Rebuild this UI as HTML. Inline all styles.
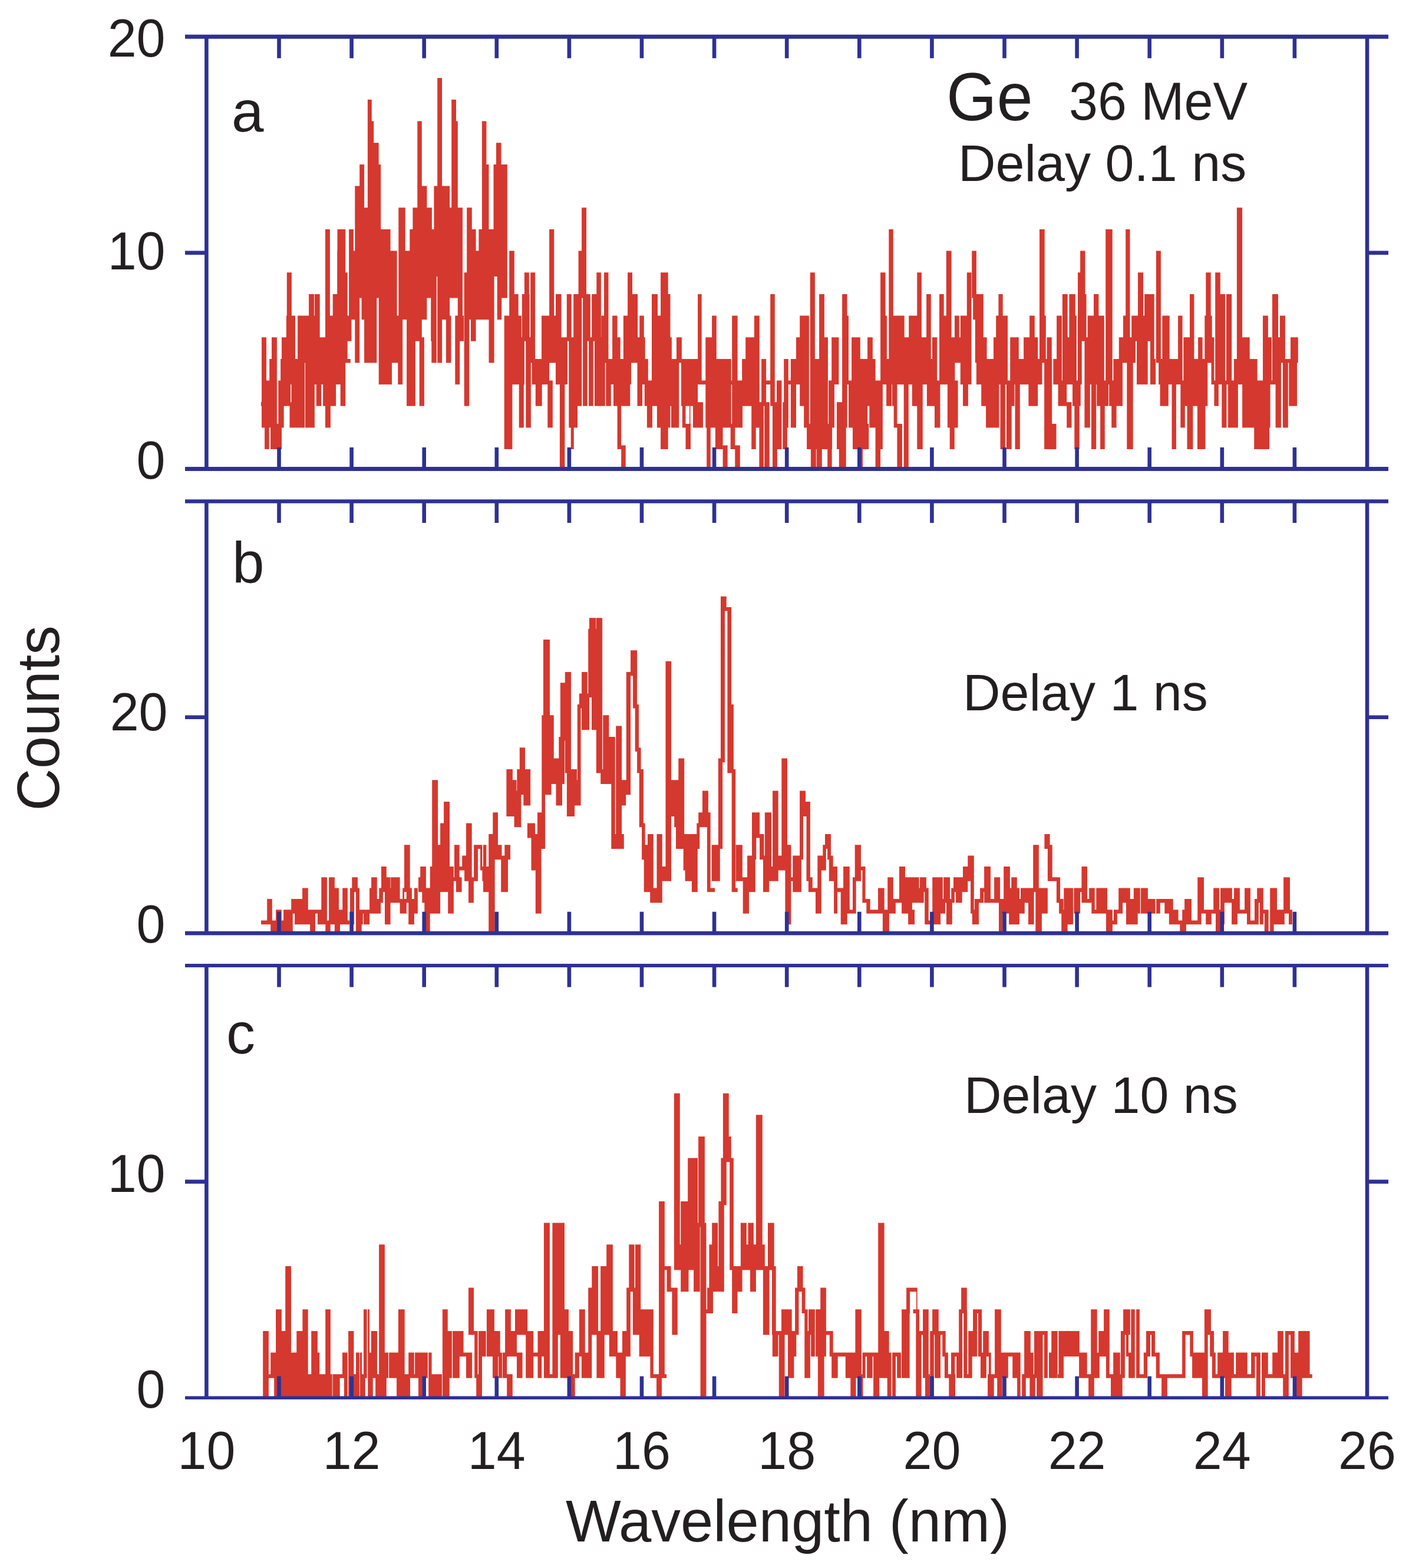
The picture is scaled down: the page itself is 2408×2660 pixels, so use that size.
<!DOCTYPE html>
<html><head><meta charset="utf-8"><title>Ge 36 MeV spectra</title>
<style>html,body{margin:0;padding:0;background:#fff;overflow:hidden;}svg{display:block;}</style></head>
<body><svg width="2408" height="2660" viewBox="0 0 2408 2660">
<rect width="2408" height="2660" fill="#ffffff"/>
<path fill="#d5382e" d="M442.9 682.2H446.3V688.8H442.9zM444.0 572.2H452.0V725.5H444.0zM446.3 645.6H457.2V725.5H446.3zM449.1 718.9H456.7V762.1H449.1zM457.2 608.9H461.0V725.5H457.2zM461.0 572.2H469.9V725.5H461.0zM459.1 718.9H478.0V762.1H459.1zM469.9 718.9H472.3V725.5H469.9zM472.3 645.6H481.7V725.5H472.3zM476.1 608.9H493.0V688.8H476.1zM478.0 572.2H485.9V615.5H478.0zM485.9 535.6H501.0V652.2H485.9zM486.8 462.3H494.9V542.2H486.8zM494.4 608.9H517.0V725.5H494.4zM505.1 535.6H517.0V725.5H505.1zM517.9 535.6H533.9V725.5H517.9zM524.1 498.9H533.0V542.2H524.1zM533.9 498.9H542.0V652.2H533.9zM536.8 645.6H545.2V688.8H536.8zM543.9 572.2H552.2V652.2H543.9zM548.1 645.6H569.7V688.8H548.1zM553.3 682.2H560.9V725.5H553.3zM552.2 425.6H559.7V652.2H552.2zM559.7 535.6H565.0V652.2H559.7zM565.0 498.9H572.2V652.2H565.0zM572.2 425.6H585.0V652.2H572.2zM578.2 645.6H585.0V688.8H578.2zM491.5 682.2H495.3V725.5H491.5zM516.0 535.6H518.9V615.5H516.0zM540.0 498.9H542.7V688.8H540.0zM540.0 572.2H545.1V688.8H540.0zM545.1 608.9H552.0V652.2H545.1zM552.0 388.9H559.9V725.5H552.0zM559.9 535.6H564.7V688.8H559.9zM564.7 498.9H570.1V688.8H564.7zM570.1 498.9H572.5V652.2H570.1zM572.5 388.9H586.2V652.2H572.5zM577.7 645.6H586.2V688.8H577.7zM586.2 462.3H589.7V615.5H586.2zM586.9 608.9H594.8V615.5H586.9zM589.7 535.6H596.5V578.8H589.7zM592.1 388.9H599.9V542.2H592.1zM599.9 425.6H602.3V542.2H599.9zM602.3 315.6H610.2V615.5H602.3zM610.2 279.0H618.1V505.5H610.2zM613.6 498.9H621.2V542.2H613.6zM618.1 352.3H623.9V615.5H618.1zM623.9 169.0H630.8V615.5H623.9zM630.8 205.6H634.2V615.5H630.8zM634.2 242.3H639.3V615.5H634.2zM639.3 242.3H642.7V505.5H639.3zM639.3 279.0H646.2V505.5H639.3zM642.7 388.9H653.0V505.5H642.7zM642.7 498.9H665.0V652.2H642.7zM653.0 388.9H662.6V578.8H653.0zM662.6 425.6H673.6V542.2H662.6zM665.0 535.6H675.3V615.5H665.0zM676.3 352.3H686.6V542.2H676.3zM675.3 535.6H683.2V652.2H675.3zM683.2 425.6H690.0V542.2H683.2zM685.0 352.3H687.7V542.2H685.0zM687.7 425.6H695.3V542.2H687.7zM690.1 535.6H704.9V688.8H690.1zM695.3 388.9H700.4V542.2H695.3zM700.4 352.3H708.3V578.8H700.4zM708.3 205.6H715.8V578.8H708.3zM711.7 572.2H719.9V688.8H711.7zM715.8 315.6H724.4V542.2H715.8zM724.4 352.3H732.9V505.5H724.4zM731.2 388.9H734.7V578.8H731.2zM732.3 388.9H740.8V615.5H732.3zM736.4 315.6H742.5V468.9H736.4zM742.2 132.3H750.1V615.5H742.2zM750.1 315.6H763.1V542.2H750.1zM756.9 535.6H765.5V615.5H756.9zM763.1 352.3H766.2V505.5H763.1zM766.2 169.0H774.0V505.5H766.2zM774.0 205.6H776.8V505.5H774.0zM776.8 352.3H785.0V542.2H776.8zM772.3 535.6H780.2V652.2H772.3zM780.2 535.6H787.1V578.8H780.2zM787.7 462.3H796.3V688.8H787.7zM792.2 352.3H800.8V542.2H792.2zM799.0 388.9H807.6V578.8H799.0zM807.6 425.6H812.4V542.2H807.6zM812.4 388.9H818.6V542.2H812.4zM817.9 205.6H825.4V542.2H817.9zM825.4 279.0H829.5V542.2H825.4zM829.5 388.9H835.0V615.5H829.5zM830.0 388.9H838.6V615.5H830.0zM837.5 279.0H843.7V468.9H837.5zM842.0 242.3H850.5V285.6H842.0zM843.7 279.0H851.2V542.2H843.7zM851.2 279.0H860.8V505.5H851.2zM855.7 535.6H869.4V762.1H855.7zM864.2 425.6H872.8V652.2H864.2zM869.4 498.9H879.7V652.2H869.4zM879.7 535.6H884.8V652.2H879.7zM880.7 645.6H888.9V725.5H880.7zM884.8 572.2H889.9V652.2H884.8zM885.8 498.9H898.5V578.8H885.8zM889.9 462.3H897.8V578.8H889.9zM892.3 572.2H900.9V725.5H892.3zM900.2 462.3H908.1V615.5H900.2zM902.6 608.9H919.0V652.2H902.6zM908.8 645.6H919.7V688.8H908.8zM919.0 535.6H932.1V652.2H919.0zM929.3 645.6H937.9V725.5H929.3zM932.1 388.9H940.3V615.5H932.1zM940.3 535.6H943.7V615.5H940.3zM943.0 498.9H952.6V652.2H943.0zM949.9 645.6H958.4V795.5H949.9zM952.6 572.2H962.9V652.2H952.6zM961.8 498.9H969.7V578.8H961.8zM965.3 572.2H973.2V725.5H965.3zM968.7 718.9H973.8V762.1H968.7zM973.2 498.9H980.0V725.5H973.2zM975.0 498.9H978.8V725.5H975.0zM975.0 498.9H985.9V688.8H975.0zM981.6 425.6H987.3V688.8H981.6zM987.1 352.3H995.0V505.5H987.1zM989.1 498.9H996.7V688.8H989.1zM994.8 498.9H1001.8V578.8H994.8zM999.1 572.2H1006.7V688.8H999.1zM1004.2 498.9H1012.3V578.8H1004.2zM1012.3 462.3H1019.9V578.8H1012.3zM1008.9 572.2H1026.8V688.8H1008.9zM1020.2 535.6H1025.5V578.8H1020.2zM1025.0 462.3H1032.5V615.5H1025.0zM1028.3 608.9H1036.8V688.8H1028.3zM1032.5 608.9H1039.1V652.2H1032.5zM1039.1 535.6H1047.6V652.2H1039.1zM1041.0 608.9H1069.3V688.8H1041.0zM1047.6 572.2H1052.7V652.2H1047.6zM1047.6 682.2H1054.2V762.1H1047.6zM1054.2 755.5H1061.7V795.5H1054.2zM1057.9 535.6H1065.1V652.2H1057.9zM1065.1 462.3H1073.0V615.5H1065.1zM1069.3 608.9H1071.1V652.2H1069.3zM1071.1 498.9H1082.1V615.5H1071.1zM1085.3 535.6H1092.8V578.8H1085.3zM1081.5 572.2H1090.0V688.8H1081.5zM1090.0 572.2H1094.7V652.2H1090.0zM1093.8 608.9H1099.8V688.8H1093.8zM1097.9 645.6H1107.0V725.5H1097.9zM1106.0 498.9H1116.0V688.8H1106.0zM1114.9 535.6H1121.1V725.5H1114.9zM1121.1 462.3H1133.7V762.1H1121.1zM1131.1 498.9H1137.5V725.5H1131.1zM1136.2 572.2H1139.9V688.8H1136.2zM1139.0 608.9H1152.2V725.5H1139.0zM1148.0 572.2H1156.9V615.5H1148.0zM1156.0 608.9H1175.0V688.8H1156.0zM1157.8 682.2H1163.5V725.5H1157.8zM1163.5 718.9H1172.0V762.1H1163.5zM1170.0 608.9H1171.5V762.1H1170.0zM1170.0 608.9H1184.1V688.8H1170.0zM1176.0 682.2H1193.0V725.5H1176.0zM1184.1 498.9H1190.7V652.2H1184.1zM1190.7 645.6H1197.3V652.2H1190.7zM1197.3 572.2H1208.1V725.5H1197.3zM1199.2 718.9H1205.8V795.5H1199.2zM1208.1 535.6H1215.8V725.5H1208.1zM1213.9 718.9H1226.6V762.1H1213.9zM1215.8 608.9H1240.7V725.5H1215.8zM1226.6 755.5H1234.7V795.5H1226.6zM1240.7 645.6H1242.2V652.2H1240.7zM1242.2 535.6H1251.6V725.5H1242.2zM1239.7 718.9H1247.3V762.1H1239.7zM1247.3 755.5H1255.8V795.5H1247.3zM1251.6 645.6H1260.1V725.5H1251.6zM1259.2 608.9H1270.8V688.8H1259.2zM1265.2 572.2H1279.9V688.8H1265.2zM1275.2 682.2H1282.7V762.1H1275.2zM1279.9 535.6H1288.8V688.8H1279.9zM1282.7 682.2H1288.8V725.5H1282.7zM1288.4 682.2H1295.9V795.5H1288.4zM1292.1 608.9H1300.1V688.8H1292.1zM1297.2 682.2H1305.7V795.5H1297.2zM1300.1 645.6H1307.2V652.2H1300.1zM1307.2 498.9H1314.8V688.8H1307.2zM1311.0 682.2H1318.9V795.5H1311.0zM1318.0 645.6H1326.5V762.1H1318.0zM1328.3 682.2H1335.9V762.1H1328.3zM1330.2 608.9H1337.8V725.5H1330.2zM1337.8 645.6H1341.9V652.2H1337.8zM1341.9 608.9H1351.0V725.5H1341.9zM1351.0 572.2H1357.6V652.2H1351.0zM1357.2 535.6H1370.0V688.8H1357.2zM1364.2 682.2H1370.0V725.5H1364.2zM1365.0 535.6H1372.9V725.5H1365.0zM1369.1 718.9H1412.1V762.1H1369.1zM1374.8 462.3H1382.9V725.5H1374.8zM1375.9 755.5H1384.8V795.5H1375.9zM1382.9 608.9H1390.1V725.5H1382.9zM1385.7 755.5H1394.8V795.5H1385.7zM1390.1 498.9H1398.9V725.5H1390.1zM1398.9 572.2H1405.0V725.5H1398.9zM1404.2 755.5H1411.7V795.5H1404.2zM1406.1 645.6H1415.9V725.5H1406.1zM1411.2 572.2H1423.4V652.2H1411.2zM1420.0 682.2H1435.7V762.1H1420.0zM1423.8 755.5H1435.7V795.5H1423.8zM1429.1 498.9H1437.6V725.5H1429.1zM1437.6 535.6H1440.0V652.2H1437.6zM1440.0 645.6H1445.1V725.5H1440.0zM1445.1 572.2H1459.8V725.5H1445.1zM1447.0 718.9H1474.3V762.1H1447.0zM1455.5 755.5H1464.0V795.5H1455.5zM1459.8 608.9H1472.1V762.1H1459.8zM1472.1 572.2H1480.9V688.8H1472.1zM1475.3 608.9H1485.6V725.5H1475.3zM1482.8 645.6H1489.0V725.5H1482.8zM1485.6 718.9H1494.1V795.5H1485.6zM1489.0 645.6H1497.9V762.1H1489.0zM1494.1 462.3H1502.6V652.2H1494.1zM1502.6 535.6H1504.9V652.2H1502.6zM1504.1 608.9H1513.0V688.8H1504.1zM1508.3 388.9H1515.8V652.2H1508.3zM1513.9 535.6H1522.4V688.8H1513.9zM1516.7 682.2H1522.4V725.5H1516.7zM1519.6 535.6H1534.7V652.2H1519.6zM1522.4 718.9H1530.9V795.5H1522.4zM1530.9 645.6H1533.7V652.2H1530.9zM1533.7 572.2H1541.8V795.5H1533.7zM1538.0 572.2H1546.0V652.2H1538.0zM1542.2 535.6H1556.3V652.2H1542.2zM1547.8 645.6H1556.3V688.8H1547.8zM1556.3 462.3H1563.9V762.1H1556.3zM1560.0 462.3H1563.8V762.1H1560.0zM1560.0 572.2H1565.8V762.1H1560.0zM1563.8 572.2H1579.8V652.2H1563.8zM1572.1 498.9H1579.8V615.5H1572.1zM1572.9 645.6H1595.4V688.8H1572.9zM1579.8 608.9H1582.5V652.2H1579.8zM1581.9 572.2H1590.2V652.2H1581.9zM1586.0 682.2H1595.4V725.5H1586.0zM1594.0 498.9H1601.7V652.2H1594.0zM1601.7 535.6H1606.2V652.2H1601.7zM1605.8 425.6H1614.6V652.2H1605.8zM1607.9 645.6H1625.6V725.5H1607.9zM1611.7 718.9H1619.8V762.1H1611.7zM1614.6 572.2H1620.4V652.2H1614.6zM1620.0 535.6H1627.7V615.5H1620.0zM1625.6 572.2H1632.9V615.5H1625.6zM1629.8 535.6H1640.8V652.2H1629.8zM1634.0 645.6H1642.9V688.8H1634.0zM1640.8 462.3H1648.5V652.2H1640.8zM1649.2 425.6H1656.9V505.5H1649.2zM1651.2 498.9H1655.4V542.2H1651.2zM1654.8 498.9H1668.8V615.5H1654.8zM1656.9 572.2H1674.6V652.2H1656.9zM1665.2 645.6H1674.6V688.8H1665.2zM1673.1 608.9H1695.4V725.5H1673.1zM1686.0 572.2H1694.4V615.5H1686.0zM1690.2 535.6H1710.0V652.2H1690.2zM1694.4 498.9H1701.7V542.2H1694.4zM1697.5 645.6H1705.8V762.1H1697.5zM1707.9 645.6H1716.7V762.1H1707.9zM1714.2 572.2H1728.8V652.2H1714.2zM1716.7 645.6H1721.5V688.8H1716.7zM1722.5 645.6H1730.8V762.1H1722.5zM1728.8 608.9H1737.1V652.2H1728.8zM1737.1 572.2H1760.0V652.2H1737.1zM1745.4 645.6H1760.0V688.8H1745.4zM1747.1 535.6H1755.8V578.8H1747.1zM1755.0 572.2H1761.2V688.8H1755.0zM1759.6 608.9H1768.5V652.2H1759.6zM1764.0 388.9H1772.7V615.5H1764.0zM1772.7 535.6H1774.8V615.5H1772.7zM1772.1 608.9H1785.2V762.1H1772.1zM1785.2 718.9H1792.5V762.1H1785.2zM1776.5 572.2H1784.8V688.8H1776.5zM1787.3 608.9H1801.9V652.2H1787.3zM1793.1 535.6H1801.9V615.5H1793.1zM1795.6 645.6H1810.2V688.8H1795.6zM1802.9 498.9H1811.7V652.2H1802.9zM1810.2 682.2H1818.5V725.5H1810.2zM1811.7 572.2H1814.4V652.2H1811.7zM1814.4 498.9H1824.8V652.2H1814.4zM1820.0 645.6H1833.8V688.8H1820.0zM1823.3 682.2H1831.7V762.1H1823.3zM1824.8 535.6H1826.9V652.2H1824.8zM1829.0 462.3H1835.8V652.2H1829.0zM1833.1 425.6H1841.5V578.8H1833.1zM1835.8 498.9H1843.5V578.8H1835.8zM1840.4 572.2H1849.8V725.5H1840.4zM1845.6 535.6H1856.0V652.2H1845.6zM1851.9 645.6H1860.2V762.1H1851.9zM1856.0 498.9H1864.4V542.2H1856.0zM1864.4 535.6H1873.8V652.2H1864.4zM1861.2 645.6H1881.0V688.8H1861.2zM1867.1 682.2H1874.8V762.1H1867.1zM1876.2 388.9H1887.7V652.2H1876.2zM1882.1 645.6H1888.3V688.8H1882.1zM1886.2 645.6H1894.6V725.5H1886.2zM1889.4 608.9H1905.0V688.8H1889.4zM1898.8 572.2H1906.0V615.5H1898.8zM1906.0 535.6H1917.5V615.5H1906.0zM1910.2 388.9H1917.5V542.2H1910.2zM1912.3 608.9H1922.7V762.1H1912.3zM1917.5 572.2H1926.9V615.5H1917.5zM1920.2 535.6H1931.0V578.8H1920.2zM1929.0 572.2H1947.7V652.2H1929.0zM1931.0 462.3H1940.0V578.8H1931.0zM1940.0 535.6H1942.5V578.8H1940.0zM1942.1 498.9H1949.8V578.8H1942.1zM1947.7 498.9H1955.0V578.8H1947.7zM1952.9 572.2H1955.0V652.2H1952.9zM1856.0 498.9H1864.4V652.2H1856.0zM1950.0 535.6H1953.0V578.8H1950.0zM1952.0 498.9H1958.7V652.2H1952.0zM1958.7 608.9H1961.2V652.2H1958.7zM1961.9 425.6H1969.9V615.5H1961.9zM1966.1 608.9H1987.2V652.2H1966.1zM1968.6 645.6H1982.8V688.8H1968.6zM1972.3 535.6H1984.7V615.5H1972.3zM1984.7 608.9H2005.8V652.2H1984.7zM1988.5 645.6H1995.9V762.1H1988.5zM1999.1 535.6H2006.6V652.2H1999.1zM2003.3 645.6H2010.8V725.5H2003.3zM2008.3 572.2H2026.4V688.8H2008.3zM2014.5 682.2H2024.4V762.1H2014.5zM2019.0 498.9H2026.4V578.8H2019.0zM2026.4 608.9H2033.1V688.8H2026.4zM2033.1 572.2H2040.6V688.8H2033.1zM2031.9 682.2H2045.5V762.1H2031.9zM2040.6 608.9H2049.3V688.8H2040.6zM2044.3 535.6H2056.7V615.5H2044.3zM2046.3 462.3H2054.7V542.2H2046.3zM2055.5 572.2H2060.4V652.2H2055.5zM2060.4 645.6H2067.9V688.8H2060.4zM2062.2 462.3H2070.8V652.2H2062.2zM2070.8 498.9H2079.0V652.2H2070.8zM2073.3 645.6H2081.5V725.5H2073.3zM2081.0 498.9H2090.2V652.2H2081.0zM2084.0 645.6H2100.9V725.5H2084.0zM2093.9 608.9H2100.1V652.2H2093.9zM2098.9 352.3H2108.1V652.2H2098.9zM2108.1 572.2H2120.7V725.5H2108.1zM2120.7 608.9H2133.6V725.5H2120.7zM2128.2 682.2H2150.0V762.1H2128.2zM2133.6 645.6H2150.0V725.5H2133.6zM2143.5 535.6H2150.0V652.2H2143.5zM2140.0 645.6H2154.1V762.1H2140.0zM2140.0 645.6H2155.6V725.5H2140.0zM2143.0 535.6H2151.9V652.2H2143.0zM2151.9 572.2H2157.9V652.2H2151.9zM2155.6 645.6H2164.6V652.2H2155.6zM2159.0 498.9H2169.0V652.2H2159.0zM2164.6 572.2H2173.9V725.5H2164.6zM2172.0 535.6H2180.9V615.5H2172.0zM2176.9 608.9H2185.8V725.5H2176.9zM2180.9 608.9H2190.6V615.5H2180.9zM2187.3 608.9H2201.0V688.8H2187.3zM2190.0 572.2H2202.8V615.5H2190.0z"/>
<path fill="#d5382e" d="M443.0 1561.6H453.2V1568.2H443.0zM453.2 1524.9H461.8V1568.2H453.2zM459.2 1561.6H468.1V1583.2H459.2zM468.1 1543.2H477.8V1583.2H468.1zM477.8 1561.6H481.1V1583.2H477.8zM481.1 1543.2H494.2V1583.2H481.1zM494.2 1524.9H496.8V1583.2H494.2zM496.8 1524.9H500.1V1549.8H496.8zM500.1 1524.9H513.1V1568.2H500.1zM513.1 1506.6H522.8V1568.2H513.1zM522.8 1543.2H526.1V1568.2H522.8zM526.1 1543.2H535.0V1583.2H526.1zM530.0 1543.2H534.8V1583.2H530.0zM534.8 1543.2H538.9V1549.8H534.8zM538.9 1543.2H545.3V1568.2H538.9zM545.3 1488.2H554.9V1568.2H545.3zM552.3 1561.6H560.7V1583.2H552.3zM554.9 1561.6H558.1V1568.2H554.9zM558.1 1488.2H567.9V1568.2H558.1zM567.9 1506.6H575.0V1568.2H567.9zM567.9 1561.6H577.0V1583.2H567.9zM575.0 1543.2H581.2V1568.2H575.0zM581.2 1506.6H589.9V1568.2H581.2zM589.9 1561.6H593.1V1568.2H589.9zM594.0 1506.6H601.1V1568.2H594.0zM597.3 1488.2H607.0V1513.2H597.3zM601.1 1506.6H604.0V1513.2H601.1zM604.0 1506.6H610.0V1583.2H604.0zM610.0 1543.2H613.7V1583.2H610.0zM613.7 1543.2H615.9V1568.2H613.7zM615.9 1543.2H617.1V1549.8H615.9zM617.1 1543.2H627.1V1568.2H617.1zM627.1 1506.6H630.0V1549.8H627.1zM625.0 1543.2H627.1V1568.2H625.0zM627.1 1506.6H630.1V1549.8H627.1zM630.1 1488.2H639.8V1549.8H630.1zM639.8 1524.9H646.1V1549.8H639.8zM643.3 1506.6H649.9V1531.5H643.3zM647.0 1469.9H655.8V1513.2H647.0zM653.0 1488.2H662.6V1568.2H653.0zM660.4 1506.6H666.1V1531.5H660.4zM663.2 1488.2H678.6V1531.5H663.2zM678.6 1524.9H689.8V1549.8H678.6zM683.2 1506.6H686.0V1531.5H683.2zM686.0 1433.3H695.7V1513.2H686.0zM689.8 1506.6H698.9V1531.5H689.8zM693.2 1524.9H702.9V1568.2H693.2zM698.9 1524.9H706.9V1549.8H698.9zM702.9 1506.6H708.9V1531.5H702.9zM706.9 1506.6H708.9V1549.8H706.9zM710.0 1488.2H716.3V1513.2H710.0zM713.2 1469.9H722.9V1513.2H713.2zM716.3 1488.2H720.3V1531.5H716.3zM720.3 1506.6H729.7V1583.2H720.3zM722.9 1506.6H730.0V1513.2H722.9zM729.7 1469.9H735.7V1549.8H729.7zM733.2 1323.3H743.1V1549.8H733.2zM743.1 1433.3H747.1V1549.8H743.1zM747.1 1396.6H753.1V1513.2H747.1zM753.1 1359.9H763.0V1513.2H753.1zM760.2 1469.9H769.9V1549.8H760.2zM763.0 1469.9H767.0V1494.8H763.0zM767.0 1488.2H771.0V1494.8H767.0zM769.9 1488.2H773.9V1494.8H769.9zM771.0 1433.3H779.6V1494.8H771.0zM773.9 1488.2H783.6V1513.2H773.9zM779.6 1469.9H784.2V1476.5H779.6zM784.2 1451.6H788.1V1476.5H784.2zM788.1 1451.6H795.0V1494.8H788.1zM791.0 1396.6H800.7V1494.8H791.0zM795.0 1488.2H803.9V1531.5H795.0zM800.7 1488.2H804.1V1494.8H800.7zM804.1 1433.3H811.0V1494.8H804.1zM811.0 1433.3H815.0V1439.9H811.0zM815.0 1433.3H818.4V1476.5H815.0zM818.4 1469.9H821.8V1494.8H818.4zM821.8 1469.9H825.0V1513.2H821.8zM820.0 1433.3H825.3V1494.8H820.0zM820.0 1469.9H829.2V1513.2H820.0zM829.2 1414.9H839.7V1583.2H829.2zM831.8 1414.9H836.3V1476.5H831.8zM836.3 1378.3H845.0V1458.2H836.3zM845.0 1433.3H851.5V1458.2H845.0zM850.2 1451.6H862.0V1513.2H850.2zM856.3 1433.3H866.0V1458.2H856.3zM859.4 1305.0H869.9V1384.9H859.4zM866.0 1323.3H876.5V1384.9H866.0zM872.6 1341.6H884.4V1403.2H872.6zM877.3 1305.0H881.8V1348.2H877.3zM881.8 1268.3H891.0V1348.2H881.8zM888.3 1305.0H900.2V1366.5H888.3zM894.9 1396.6H908.0V1421.5H894.9zM901.5 1414.9H910.7V1476.5H901.5zM908.8 1414.9H918.6V1549.8H908.8zM912.0 1378.3H925.1V1439.9H912.0zM919.3 1213.3H925.1V1439.9H919.3zM922.0 1085.0H933.0V1219.9H922.0zM925.1 1213.3H935.6V1348.2H925.1zM933.0 1213.3H939.8V1329.9H933.0zM939.8 1286.6H948.8V1329.9H939.8zM943.5 1286.6H954.0V1366.5H943.5zM948.3 1250.0H958.0V1329.9H948.3zM950.9 1158.3H959.3V1256.6H950.9zM958.8 1140.0H969.0V1311.5H958.8zM961.9 1305.0H975.1V1384.9H961.9zM969.0 1305.0H979.0V1329.9H969.0zM975.1 1323.3H985.6V1366.5H975.1zM979.8 1195.0H985.6V1366.5H979.8zM982.9 1176.6H990.3V1201.6H982.9zM987.1 1140.0H996.6V1238.2H987.1zM990.3 1176.6H1000.0V1238.2H990.3zM998.2 1066.7H1009.2V1183.2H998.2zM1004.0 1085.0H1014.5V1238.2H1004.0zM1009.2 1066.7H1020.0V1146.6H1009.2zM1014.5 1140.0H1020.0V1311.5H1014.5zM1000.0 1048.3H1011.3V1183.2H1000.0zM1004.2 1066.7H1015.5V1238.2H1004.2zM1011.9 1048.3H1022.1V1311.5H1011.9zM1019.2 1305.0H1036.8V1329.9H1019.2zM1023.2 1213.3H1033.4V1329.9H1023.2zM1033.4 1250.0H1043.8V1329.9H1033.4zM1037.3 1323.3H1043.8V1439.9H1037.3zM1043.8 1414.9H1058.8V1439.9H1043.8zM1045.2 1231.6H1055.1V1439.9H1045.2zM1055.1 1323.3H1062.2V1366.5H1055.1zM1056.5 1323.3H1070.1V1348.2H1056.5zM1062.8 1140.0H1070.1V1348.2H1062.8zM1070.1 1103.3H1081.1V1146.6H1070.1zM1074.1 1140.0H1081.1V1201.6H1074.1zM1077.7 1195.0H1084.0V1274.9H1077.7zM1081.1 1268.3H1087.6V1311.5H1081.1zM1084.8 1305.0H1091.9V1403.2H1084.8zM1089.1 1396.6H1094.7V1458.2H1089.1zM1092.7 1433.3H1103.2V1513.2H1092.7zM1099.0 1414.9H1108.8V1513.2H1099.0zM1103.2 1506.6H1120.2V1531.5H1103.2zM1114.5 1414.9H1123.8V1531.5H1114.5zM1120.2 1469.9H1134.3V1494.8H1120.2zM1129.5 1121.7H1139.1V1494.8H1129.5zM1135.7 1323.3H1144.2V1384.9H1135.7zM1139.1 1323.3H1149.8V1366.5H1139.1zM1144.2 1323.3H1151.3V1403.2H1144.2zM1147.0 1396.6H1161.2V1439.9H1147.0zM1151.3 1286.6H1161.2V1439.9H1151.3zM1159.7 1414.9H1169.6V1476.5H1159.7zM1162.6 1414.9H1180.1V1494.8H1162.6zM1173.9 1414.9H1180.1V1513.2H1173.9zM1175.0 1414.9H1183.8V1513.2H1175.0zM1179.4 1433.3H1187.3V1439.9H1179.4zM1182.3 1396.6H1187.3V1439.9H1182.3zM1185.2 1378.3H1198.4V1403.2H1185.2zM1192.0 1341.6H1201.9V1403.2H1192.0zM1199.9 1378.3H1205.7V1513.2H1199.9zM1200.8 1506.6H1213.0V1513.2H1200.8zM1207.8 1433.3H1221.8V1494.8H1207.8zM1218.9 1286.6H1226.2V1439.9H1218.9zM1223.0 1011.7H1230.0V1293.2H1223.0zM1223.0 1011.7H1232.7V1036.6H1223.0zM1232.7 1030.0H1241.1V1036.6H1232.7zM1234.4 1030.0H1241.1V1201.6H1234.4zM1234.4 1195.0H1244.9V1311.5H1234.4zM1241.7 1305.0H1248.2V1513.2H1241.7zM1242.3 1506.6H1251.7V1513.2H1242.3zM1248.7 1433.3H1259.9V1494.8H1248.7zM1251.7 1488.2H1268.6V1494.8H1251.7zM1260.7 1488.2H1271.0V1549.8H1260.7zM1268.1 1451.6H1281.8V1513.2H1268.1zM1276.0 1378.3H1289.1V1421.5H1276.0zM1276.0 1378.3H1283.3V1458.2H1276.0zM1289.1 1414.9H1296.5V1458.2H1289.1zM1295.0 1451.6H1305.2V1513.2H1295.0zM1297.9 1378.3H1309.0V1494.8H1297.9zM1305.2 1469.9H1313.1V1494.8H1305.2zM1311.1 1341.6H1320.7V1494.8H1311.1zM1318.4 1451.6H1331.6V1476.5H1318.4zM1326.3 1286.6H1336.0V1476.5H1326.3zM1332.4 1433.3H1342.4V1568.2H1332.4zM1339.5 1488.2H1350.6V1494.8H1339.5zM1345.3 1451.6H1355.0V1513.2H1345.3zM1350.0 1451.6H1359.9V1513.2H1350.0zM1357.1 1341.6H1363.0V1458.2H1357.1zM1363.0 1341.6H1367.0V1384.9H1363.0zM1367.0 1359.9H1374.9V1384.9H1367.0zM1368.5 1359.9H1374.9V1494.8H1368.5zM1371.9 1488.2H1378.8V1513.2H1371.9zM1378.8 1506.6H1384.2V1513.2H1378.8zM1384.0 1506.6H1393.8V1549.8H1384.0zM1387.3 1451.6H1393.8V1513.2H1387.3zM1393.8 1451.6H1401.8V1476.5H1393.8zM1396.3 1433.3H1401.8V1476.5H1396.3zM1400.0 1414.9H1410.0V1439.9H1400.0zM1404.1 1433.3H1410.0V1458.2H1404.1zM1406.8 1451.6H1413.7V1494.8H1406.8zM1413.7 1469.9H1421.0V1494.8H1413.7zM1415.1 1469.9H1421.0V1549.8H1415.1zM1421.0 1506.6H1431.1V1513.2H1421.0zM1426.7 1506.6H1437.7V1568.2H1426.7zM1431.1 1469.9H1441.8V1549.8H1431.1zM1437.7 1543.2H1447.3V1549.8H1437.7zM1447.0 1488.2H1452.7V1549.8H1447.0zM1450.7 1433.3H1461.0V1494.8H1450.7zM1456.8 1469.9H1468.5V1476.5H1456.8zM1463.4 1469.9H1468.5V1531.5H1463.4zM1468.5 1524.9H1476.7V1531.5H1468.5zM1470.3 1524.9H1476.7V1549.8H1470.3zM1476.7 1543.2H1490.4V1549.8H1476.7zM1490.0 1506.6H1500.7V1549.8H1490.0zM1497.9 1543.2H1508.9V1583.2H1497.9zM1506.2 1488.2H1515.8V1549.8H1506.2zM1515.8 1524.9H1526.0V1531.5H1515.8zM1515.8 1524.9H1519.9V1549.8H1515.8zM1526.0 1469.9H1536.0V1531.5H1526.0zM1530.1 1524.9H1541.1V1549.8H1530.1zM1536.0 1488.2H1547.9V1549.8H1536.0zM1541.1 1543.2H1552.1V1568.2H1541.1zM1547.9 1488.2H1559.6V1531.5H1547.9zM1555.5 1506.6H1567.8V1531.5H1555.5zM1561.0 1488.2H1571.9V1513.2H1561.0zM1569.2 1506.6H1575.8V1568.2H1569.2zM1575.8 1561.6H1582.9V1568.2H1575.8zM1582.2 1488.2H1595.9V1568.2H1582.2zM1595.9 1543.2H1600.0V1549.8H1595.9zM1595.0 1488.2H1599.8V1549.8H1595.0zM1595.0 1543.2H1596.1V1568.2H1595.0zM1599.8 1524.9H1603.9V1549.8H1599.8zM1601.2 1488.2H1612.1V1531.5H1601.2zM1606.0 1524.9H1615.8V1568.2H1606.0zM1612.1 1524.9H1619.9V1531.5H1612.1zM1614.2 1506.6H1619.9V1531.5H1614.2zM1618.0 1488.2H1634.0V1513.2H1618.0zM1622.1 1506.6H1632.7V1531.5H1622.1zM1634.0 1469.9H1642.3V1513.2H1634.0zM1639.9 1469.9H1647.1V1494.8H1639.9zM1642.3 1451.6H1652.8V1494.8H1642.3zM1647.1 1488.2H1652.8V1549.8H1647.1zM1649.8 1543.2H1661.0V1568.2H1649.8zM1653.9 1524.9H1661.0V1568.2H1653.9zM1661.0 1524.9H1669.0V1531.5H1661.0zM1663.1 1506.6H1669.0V1531.5H1663.1zM1669.0 1506.6H1675.1V1513.2H1669.0zM1670.1 1469.9H1681.0V1531.5H1670.1zM1681.0 1524.9H1687.1V1531.5H1681.0zM1687.1 1488.2H1697.1V1531.5H1687.1zM1695.0 1524.9H1701.2V1583.2H1695.0zM1701.2 1524.9H1703.2V1549.8H1701.2zM1703.2 1469.9H1713.9V1549.8H1703.2zM1712.1 1506.6H1729.9V1568.2H1712.1zM1716.2 1488.2H1725.8V1513.2H1716.2zM1725.8 1524.9H1738.8V1549.8H1725.8zM1732.0 1506.6H1754.6V1531.5H1732.0zM1745.0 1524.9H1754.6V1568.2H1745.0zM1753.2 1433.3H1762.8V1513.2H1753.2zM1757.3 1506.6H1767.9V1583.2H1757.3zM1764.9 1506.6H1777.9V1549.8H1764.9zM1772.4 1414.9H1781.6V1439.9H1772.4zM1777.9 1433.3H1785.7V1494.8H1777.9zM1780.2 1488.2H1799.1V1494.8H1780.2zM1792.9 1488.2H1799.1V1531.5H1792.9zM1797.1 1524.9H1804.6V1549.8H1797.1zM1801.2 1543.2H1811.7V1583.2H1801.2zM1805.3 1506.6H1821.0V1568.2H1805.3zM1822.4 1506.6H1833.1V1549.8H1822.4zM1833.1 1506.6H1845.0V1513.2H1833.1zM1835.4 1469.9H1845.0V1531.5H1835.4zM1840.0 1469.9H1844.8V1531.5H1840.0zM1844.8 1524.9H1852.3V1531.5H1844.8zM1848.2 1506.6H1857.8V1531.5H1848.2zM1852.3 1524.9H1857.8V1549.8H1852.3zM1857.8 1543.2H1860.3V1549.8H1857.8zM1860.3 1506.6H1879.0V1549.8H1860.3zM1877.0 1543.2H1887.9V1583.2H1877.0zM1882.7 1561.6H1895.9V1568.2H1882.7zM1890.0 1543.2H1895.9V1568.2H1890.0zM1895.9 1543.2H1905.1V1549.8H1895.9zM1898.2 1506.6H1905.1V1549.8H1898.2zM1905.1 1506.6H1911.0V1531.5H1905.1zM1911.0 1506.6H1917.8V1568.2H1911.0zM1917.8 1524.9H1930.7V1568.2H1917.8zM1923.8 1506.6H1934.8V1549.8H1923.8zM1935.9 1506.6H1947.9V1549.8H1935.9zM1947.9 1524.9H1953.7V1549.8H1947.9zM1953.7 1524.9H1960.5V1549.8H1953.7zM1962.2 1524.9H1968.8V1549.8H1962.2zM1968.8 1524.9H1976.3V1531.5H1968.8zM1976.3 1524.9H1990.7V1549.8H1976.3zM1983.8 1543.2H1999.6V1568.2H1983.8zM1999.6 1561.6H2006.4V1568.2H1999.6zM2002.3 1561.6H2012.9V1583.2H2002.3zM2006.2 1543.2H2012.9V1568.2H2006.2zM2010.1 1524.9H2021.9V1568.2H2010.1zM2021.9 1561.6H2032.5V1568.2H2021.9zM2032.2 1488.2H2038.6V1568.2H2032.2zM2038.6 1488.2H2043.0V1549.8H2038.6zM2043.0 1543.2H2059.2V1549.8H2043.0zM2046.2 1543.2H2055.8V1568.2H2046.2zM2059.2 1506.6H2068.8V1549.8H2059.2zM2063.3 1543.2H2071.5V1583.2H2063.3zM2071.2 1506.6H2077.7V1568.2H2071.2zM2077.7 1506.6H2090.0V1531.5H2077.7zM2060.0 1506.6H2068.9V1549.8H2060.0zM2063.0 1543.2H2070.8V1583.2H2063.0zM2071.0 1506.6H2090.8V1531.5H2071.0zM2071.0 1524.9H2077.9V1568.2H2071.0zM2090.1 1524.9H2099.9V1568.2H2090.1zM2094.0 1506.6H2103.9V1549.8H2094.0zM2099.9 1543.2H2116.2V1549.8H2099.9zM2112.1 1506.6H2121.9V1549.8H2112.1zM2116.0 1543.2H2121.9V1568.2H2116.0zM2121.9 1561.6H2129.0V1568.2H2121.9zM2129.0 1524.9H2135.9V1568.2H2129.0zM2133.2 1506.6H2143.8V1531.5H2133.2zM2137.9 1524.9H2143.8V1568.2H2137.9zM2143.8 1543.2H2152.7V1549.8H2143.8zM2145.8 1543.2H2152.7V1583.2H2145.8zM2155.2 1506.6H2161.6V1583.2H2155.2zM2161.6 1506.6H2167.0V1568.2H2161.6zM2167.0 1543.2H2179.8V1568.2H2167.0zM2178.1 1488.2H2189.0V1549.8H2178.1zM2187.0 1543.2H2192.9V1568.2H2187.0z"/>
<path fill="#d5382e" d="M446.2 2257.9H455.9V2371.2H446.2zM453.0 2331.2H465.2V2337.8H453.0zM455.9 2331.2H459.2V2337.8H455.9zM459.2 2294.6H468.1V2337.8H459.2zM465.2 2294.6H470.2V2371.2H465.2zM468.1 2221.3H477.9V2371.2H468.1zM477.9 2257.9H484.2V2371.2H477.9zM484.2 2147.9H494.0V2371.2H484.2zM494.0 2294.6H506.2V2371.2H494.0zM503.3 2257.9H513.4V2371.2H503.3zM506.9 2257.9H513.4V2371.2H506.9zM513.4 2221.3H522.7V2371.2H513.4zM522.7 2331.2H528.2V2371.2H522.7zM528.2 2257.9H538.9V2371.2H528.2zM538.9 2294.6H542.2V2371.2H538.9zM542.2 2331.2H552.2V2371.2H542.2zM552.2 2221.3H560.9V2371.2H552.2zM560.9 2331.2H563.7V2371.2H560.9zM564.5 2331.2H576.7V2371.2H564.5zM576.7 2331.2H583.9V2337.8H576.7zM581.0 2294.6H589.6V2337.8H581.0zM583.9 2294.6H589.6V2371.2H583.9zM591.1 2257.9H600.4V2371.2H591.1zM600.4 2331.2H604.0V2371.2H600.4zM604.0 2294.6H609.8V2371.2H604.0zM610.8 2294.6H614.1V2371.2H610.8zM614.1 2331.2H619.8V2371.2H614.1zM617.0 2221.3H622.7V2337.8H617.0zM624.2 2221.3H627.0V2371.2H624.2zM627.0 2294.6H632.8V2371.2H627.0zM629.9 2257.9H640.0V2337.8H629.9zM637.1 2331.2H645.7V2371.2H637.1zM643.1 2111.3H652.9V2371.2H643.1zM647.2 2294.6H655.8V2371.2H647.2zM655.8 2294.6H659.0V2337.8H655.8zM660.1 2294.6H665.9V2337.8H660.1zM665.9 2294.6H675.9V2337.8H665.9zM673.1 2331.2H685.0V2371.2H673.1zM675.9 2221.3H685.0V2371.2H675.9zM680.0 2221.3H686.7V2371.2H680.0zM686.7 2331.2H696.0V2371.2H686.7zM693.2 2294.6H702.8V2337.8H693.2zM696.0 2331.2H710.4V2337.8H696.0zM704.1 2294.6H725.9V2337.8H704.1zM710.0 2331.2H716.8V2371.2H710.0zM727.2 2294.6H732.6V2371.2H727.2zM732.6 2331.2H750.0V2371.2H732.6zM750.9 2221.3H759.8V2371.2H750.9zM759.8 2257.9H762.7V2371.2H759.8zM759.8 2257.9H766.9V2337.8H759.8zM768.1 2257.9H779.9V2337.8H768.1zM779.9 2257.9H786.6V2301.2H779.9zM786.6 2294.6H795.0V2301.2H786.6zM791.0 2294.6H801.1V2337.8H791.0zM795.0 2184.6H804.0V2264.5H795.0zM801.1 2257.9H810.7V2264.5H801.1zM805.2 2257.9H810.7V2337.8H805.2zM808.2 2331.2H818.0V2371.2H808.2zM812.1 2257.9H818.0V2337.8H812.1zM818.0 2257.9H824.7V2301.2H818.0zM825.9 2221.3H838.9V2301.2H825.9zM836.0 2294.6H845.3V2337.8H836.0zM838.9 2257.9H848.7V2301.2H838.9zM846.2 2294.6H852.1V2337.8H846.2zM852.9 2294.6H860.2V2337.8H852.9zM857.1 2221.3H866.9V2301.2H857.1zM860.2 2331.2H869.8V2371.2H860.2zM866.9 2257.9H874.0V2301.2H866.9zM874.0 2221.3H895.1V2264.5H874.0zM874.0 2257.9H877.0V2301.2H874.0zM877.0 2294.6H886.6V2337.8H877.0zM892.2 2257.9H905.2V2337.8H892.2zM905.2 2294.6H912.5V2301.2H905.2zM912.5 2257.9H919.2V2337.8H912.5zM919.2 2257.9H922.9V2301.2H919.2zM922.9 2074.6H930.0V2337.8H922.9zM920.0 2257.9H925.9V2301.2H920.0zM923.2 2074.6H932.9V2301.2H923.2zM925.9 2074.6H932.9V2337.8H925.9zM932.9 2331.2H937.4V2337.8H932.9zM937.4 2074.6H946.8V2337.8H937.4zM946.8 2074.6H958.0V2264.5H946.8zM950.8 2257.9H961.5V2337.8H950.8zM958.0 2221.3H965.0V2264.5H958.0zM961.5 2257.9H972.2V2337.8H961.5zM968.2 2331.2H975.7V2371.2H968.2zM975.7 2294.6H982.9V2337.8H975.7zM982.9 2221.3H992.8V2301.2H982.9zM986.9 2294.6H998.2V2337.8H986.9zM998.2 2184.6H1004.3V2337.8H998.2zM1004.3 2147.9H1015.0V2264.5H1004.3zM1012.4 2257.9H1019.6V2337.8H1012.4zM1019.1 2147.9H1025.8V2337.8H1019.1zM1025.8 2147.9H1029.2V2264.5H1025.8zM1029.2 2111.3H1039.9V2264.5H1029.2zM1033.8 2257.9H1048.0V2301.2H1033.8zM1045.3 2294.6H1052.5V2337.8H1045.3zM1052.5 2294.6H1061.9V2371.2H1052.5zM1056.0 2257.9H1069.9V2301.2H1056.0zM1063.2 2184.6H1069.9V2301.2H1063.2zM1067.3 2111.3H1076.6V2191.2H1067.3zM1078.0 2111.3H1087.3V2264.5H1078.0zM1073.9 2184.6H1078.0V2264.5H1073.9zM1084.7 2221.3H1098.0V2301.2H1084.7zM1098.0 2221.3H1108.8V2301.2H1098.0zM1103.4 2294.6H1108.8V2337.8H1103.4zM1108.8 2331.2H1118.1V2337.8H1108.8zM1114.1 2331.2H1120.0V2371.2H1114.1zM1118.1 2038.0H1120.0V2337.8H1118.1zM1115.0 2331.2H1123.0V2371.2H1115.0zM1118.2 2038.0H1127.9V2337.8H1118.2zM1123.0 2331.2H1131.1V2337.8H1123.0zM1127.9 2147.9H1138.6V2154.5H1127.9zM1131.6 2147.9H1138.6V2191.2H1131.6zM1138.6 2184.6H1149.8V2191.2H1138.6zM1140.4 2184.6H1149.8V2264.5H1140.4zM1143.9 1854.7H1153.8V2154.5H1143.9zM1149.8 2111.3H1159.2V2154.5H1149.8zM1155.2 2038.0H1168.5V2191.2H1155.2zM1167.2 1964.6H1184.1V2154.5H1167.2zM1177.1 2074.6H1187.8V2191.2H1177.1zM1185.1 1928.0H1195.9V2081.2H1185.1zM1188.6 2074.6H1198.5V2371.2H1188.6zM1195.9 2221.3H1206.0V2227.9H1195.9zM1200.1 2184.6H1210.0V2227.9H1200.1zM1203.4 2111.3H1212.7V2191.2H1203.4zM1208.2 2074.6H1218.1V2154.5H1208.2zM1212.7 2147.9H1225.6V2191.2H1212.7zM1219.4 2038.0H1228.8V2191.2H1219.4zM1223.4 1964.6H1232.8V2044.6H1223.4zM1226.9 1854.7H1236.8V1971.2H1226.9zM1232.8 1928.0H1240.8V1971.2H1232.8zM1238.2 1964.6H1244.9V2154.5H1238.2zM1242.2 2147.9H1251.5V2227.9H1242.2zM1251.5 2147.9H1259.6V2191.2H1251.5zM1256.9 2074.6H1266.8V2154.5H1256.9zM1266.8 2111.3H1273.0V2154.5H1266.8zM1269.5 2074.6H1278.9V2154.5H1269.5zM1273.0 2111.3H1282.9V2191.2H1273.0zM1278.9 2111.3H1290.4V2154.5H1278.9zM1282.9 1891.3H1293.8V2117.9H1282.9zM1290.4 2111.3H1297.9V2154.5H1290.4zM1294.9 2147.9H1305.6V2264.5H1294.9zM1303.0 2074.6H1313.7V2154.5H1303.0zM1305.6 2147.9H1315.0V2154.5H1305.6zM1311.0 2147.9H1315.0V2301.2H1311.0zM1310.0 2074.6H1313.7V2154.5H1310.0zM1310.0 2147.9H1316.7V2264.5H1310.0zM1310.8 2257.9H1320.5V2301.2H1310.8zM1316.7 2257.9H1326.0V2264.5H1316.7zM1321.8 2257.9H1331.6V2371.2H1321.8zM1326.0 2221.3H1343.7V2264.5H1326.0zM1337.0 2257.9H1347.4V2337.8H1337.0zM1343.7 2257.9H1351.3V2301.2H1343.7zM1349.1 2184.6H1355.5V2264.5H1349.1zM1353.0 2147.9H1362.6V2191.2H1353.0zM1360.6 2184.6H1366.5V2227.9H1360.6zM1365.3 2221.3H1370.7V2264.5H1365.3zM1365.3 2257.9H1374.9V2337.8H1365.3zM1372.1 2221.3H1382.9V2264.5H1372.1zM1376.1 2257.9H1382.9V2301.2H1376.1zM1384.2 2221.3H1401.9V2301.2H1384.2zM1392.2 2184.6H1401.9V2227.9H1392.2zM1387.9 2294.6H1398.6V2371.2H1387.9zM1401.9 2257.9H1413.7V2264.5H1401.9zM1407.8 2257.9H1413.7V2301.2H1407.8zM1411.2 2294.6H1421.7V2337.8H1411.2zM1413.7 2294.6H1451.7V2301.2H1413.7zM1434.8 2294.6H1443.3V2337.8H1434.8zM1443.3 2294.6H1452.5V2371.2H1443.3zM1451.4 2221.3H1461.8V2337.8H1451.4zM1460.1 2331.2H1464.4V2371.2H1460.1zM1463.5 2294.6H1488.5V2301.2H1463.5zM1463.5 2294.6H1468.6V2337.8H1463.5zM1471.1 2294.6H1480.7V2337.8H1471.1zM1482.1 2294.6H1492.2V2371.2H1482.1zM1490.2 2074.6H1500.6V2337.8H1490.2zM1500.6 2257.9H1508.7V2337.8H1500.6zM1505.7 2294.6H1512.4V2371.2H1505.7zM1514.1 2294.6H1520.0V2371.2H1514.1zM1520.0 2294.6H1529.0V2301.2H1520.0zM1522.2 2294.6H1529.0V2337.8H1522.2zM1530.1 2221.3H1543.6V2337.8H1530.1zM1538.1 2184.6H1556.6V2191.2H1538.1zM1538.1 2184.6H1544.1V2227.9H1538.1zM1549.5 2221.3H1560.0V2227.9H1549.5zM1554.3 2221.3H1560.0V2371.2H1554.3zM1555.0 2184.6H1556.7V2371.2H1555.0zM1555.0 2221.3H1559.9V2371.2H1555.0zM1559.9 2257.9H1563.6V2371.2H1559.9zM1559.9 2257.9H1566.1V2264.5H1559.9zM1566.1 2221.3H1575.8V2337.8H1566.1zM1570.0 2331.2H1577.9V2371.2H1570.0zM1578.3 2257.9H1584.9V2371.2H1578.3zM1582.1 2221.3H1592.8V2264.5H1582.1zM1586.2 2257.9H1596.0V2337.8H1586.2zM1592.8 2257.9H1604.7V2264.5H1592.8zM1599.2 2257.9H1604.7V2301.2H1599.2zM1602.9 2294.6H1608.9V2337.8H1602.9zM1608.9 2331.2H1614.0V2337.8H1608.9zM1610.3 2331.2H1621.0V2371.2H1610.3zM1614.0 2294.6H1627.2V2301.2H1614.0zM1614.0 2294.6H1620.3V2337.8H1614.0zM1623.1 2294.6H1632.8V2337.8H1623.1zM1627.2 2221.3H1633.1V2337.8H1627.2zM1631.1 2184.6H1640.8V2227.9H1631.1zM1635.3 2221.3H1641.1V2337.8H1635.3zM1641.1 2331.2H1643.2V2337.8H1641.1zM1643.2 2257.9H1649.7V2337.8H1643.2zM1649.7 2257.9H1657.8V2301.2H1649.7zM1651.1 2221.3H1665.8V2227.9H1651.1zM1651.1 2221.3H1658.1V2301.2H1651.1zM1659.9 2221.3H1666.1V2301.2H1659.9zM1664.0 2294.6H1673.8V2337.8H1664.0zM1668.2 2257.9H1677.9V2301.2H1668.2zM1673.8 2294.6H1681.7V2301.2H1673.8zM1676.1 2331.2H1686.7V2371.2H1676.1zM1677.9 2294.6H1681.7V2337.8H1677.9zM1681.7 2331.2H1688.1V2337.8H1681.7zM1688.1 2221.3H1698.8V2337.8H1688.1zM1692.2 2331.2H1700.8V2371.2H1692.2zM1698.8 2294.6H1710.8V2337.8H1698.8zM1710.8 2294.6H1718.2V2301.2H1710.8zM1718.2 2294.6H1731.7V2337.8H1718.2zM1726.1 2331.2H1731.7V2371.2H1726.1zM1734.2 2331.2H1740.8V2371.2H1734.2zM1738.1 2257.9H1748.8V2337.8H1738.1zM1748.8 2294.6H1753.6V2337.8H1748.8zM1747.4 2331.2H1756.7V2371.2H1747.4zM1755.0 2257.9H1777.9V2264.5H1755.0zM1759.2 2257.9H1769.6V2371.2H1759.2zM1755.0 2257.9H1759.2V2337.8H1755.0zM1771.9 2257.9H1777.9V2337.8H1771.9zM1780.0 2294.6H1785.6V2337.8H1780.0zM1784.2 2257.9H1794.6V2337.8H1784.2zM1796.4 2257.9H1805.0V2337.8H1796.4zM1795.0 2331.2H1796.4V2337.8H1795.0zM1796.4 2257.9H1802.6V2337.8H1796.4zM1796.4 2257.9H1831.8V2301.2H1796.4zM1831.1 2294.6H1844.7V2337.8H1831.1zM1844.7 2331.2H1851.2V2337.8H1844.7zM1847.1 2331.2H1856.8V2371.2H1847.1zM1851.2 2221.3H1861.7V2337.8H1851.2zM1861.7 2294.6H1865.8V2337.8H1861.7zM1864.2 2257.9H1873.1V2301.2H1864.2zM1873.1 2221.3H1882.8V2301.2H1873.1zM1876.9 2294.6H1882.8V2337.8H1876.9zM1882.8 2331.2H1889.2V2337.8H1882.8zM1885.0 2331.2H1904.7V2371.2H1885.0zM1889.2 2294.6H1900.8V2337.8H1889.2zM1901.9 2257.9H1908.9V2337.8H1901.9zM1906.1 2221.3H1917.9V2264.5H1906.1zM1911.0 2257.9H1915.1V2301.2H1911.0zM1915.1 2294.6H1925.8V2337.8H1915.1zM1919.3 2221.3H1925.8V2337.8H1919.3zM1928.1 2221.3H1933.9V2337.8H1928.1zM1933.9 2331.2H1947.1V2337.8H1933.9zM1940.8 2294.6H1947.1V2337.8H1940.8zM1945.0 2257.9H1951.9V2301.2H1945.0zM1951.9 2257.9H1960.0V2264.5H1951.9zM1954.0 2257.9H1960.0V2301.2H1954.0zM1960.0 2294.6H1967.9V2301.2H1960.0zM1961.7 2294.6H1967.9V2337.8H1961.7zM1967.9 2331.2H2006.1V2337.8H1967.9zM1971.1 2331.2H1980.8V2371.2H1971.1zM2006.1 2257.9H2011.7V2337.8H2006.1zM2011.7 2257.9H2019.3V2264.5H2011.7zM2019.3 2257.9H2024.9V2301.2H2019.3zM2023.1 2294.6H2045.0V2337.8H2023.1zM2040.1 2331.2H2045.0V2371.2H2040.1zM2043.9 2221.3H2045.0V2301.2H2043.9zM2040.0 2294.6H2044.2V2371.2H2040.0zM2044.2 2221.3H2049.7V2371.2H2044.2zM2049.7 2221.3H2055.0V2264.5H2049.7zM2053.2 2257.9H2060.1V2301.2H2053.2zM2056.9 2294.6H2062.9V2337.8H2056.9zM2062.9 2331.2H2066.4V2337.8H2062.9zM2066.1 2294.6H2075.1V2337.8H2066.1zM2075.1 2257.9H2084.7V2337.8H2075.1zM2078.9 2331.2H2089.7V2371.2H2078.9zM2084.7 2294.6H2093.9V2337.8H2084.7zM2093.9 2331.2H2097.2V2337.8H2093.9zM2097.2 2294.6H2116.7V2337.8H2097.2zM2116.7 2331.2H2123.1V2337.8H2116.7zM2123.1 2294.6H2138.9V2301.2H2123.1zM2123.1 2294.6H2129.6V2337.8H2123.1zM2131.9 2294.6H2138.9V2371.2H2131.9zM2141.1 2294.6H2151.8V2337.8H2141.1zM2141.1 2294.6H2146.9V2371.2H2141.1zM2151.8 2331.2H2159.2V2337.8H2151.8zM2159.2 2294.6H2168.1V2337.8H2159.2zM2168.1 2257.9H2177.8V2337.8H2168.1zM2177.2 2331.2H2186.9V2371.2H2177.2zM2181.0 2257.9H2196.9V2264.5H2181.0zM2181.0 2257.9H2186.9V2337.8H2181.0zM2190.0 2257.9H2196.9V2337.8H2190.0zM2196.9 2294.6H2203.2V2337.8H2196.9zM2199.7 2331.2H2209.7V2371.2H2199.7zM2203.2 2257.9H2222.6V2337.8H2203.2zM2222.6 2331.2H2226.8V2337.8H2222.6z"/>
<line x1="314.0" y1="62.3" x2="2356.0" y2="62.3" stroke="#2e3192" stroke-width="7.0"/><line x1="314.0" y1="795.5" x2="2356.0" y2="795.5" stroke="#2e3192" stroke-width="6.8"/><line x1="350.4" y1="62.3" x2="350.4" y2="795.5" stroke="#2e3192" stroke-width="6.6"/><line x1="2320.0" y1="62.3" x2="2320.0" y2="795.5" stroke="#2e3192" stroke-width="6.6"/><path d="M473.5 62.3v36.5M473.5 795.5v-36.5M596.6 62.3v36.5M596.6 795.5v-36.5M719.7 62.3v36.5M719.7 795.5v-36.5M842.8 62.3v36.5M842.8 795.5v-36.5M965.9 62.3v36.5M965.9 795.5v-36.5M1089.0 62.3v36.5M1089.0 795.5v-36.5M1212.1 62.3v36.5M1212.1 795.5v-36.5M1335.2 62.3v36.5M1335.2 795.5v-36.5M1458.3 62.3v36.5M1458.3 795.5v-36.5M1581.4 62.3v36.5M1581.4 795.5v-36.5M1704.5 62.3v36.5M1704.5 795.5v-36.5M1827.6 62.3v36.5M1827.6 795.5v-36.5M1950.7 62.3v36.5M1950.7 795.5v-36.5M2073.8 62.3v36.5M2073.8 795.5v-36.5M2196.9 62.3v36.5M2196.9 795.5v-36.5M314.0 428.9H350.4M2320.0 428.9H2356.0" stroke="#2e3192" stroke-width="6.6" fill="none"/><line x1="314.0" y1="850.5" x2="2356.0" y2="850.5" stroke="#2e3192" stroke-width="6.4"/><line x1="314.0" y1="1583.2" x2="2356.0" y2="1583.2" stroke="#2e3192" stroke-width="6.7"/><line x1="350.4" y1="850.5" x2="350.4" y2="1583.2" stroke="#2e3192" stroke-width="6.6"/><line x1="2320.0" y1="850.5" x2="2320.0" y2="1583.2" stroke="#2e3192" stroke-width="6.6"/><path d="M473.5 850.5v36.5M473.5 1583.2v-36.5M596.6 850.5v36.5M596.6 1583.2v-36.5M719.7 850.5v36.5M719.7 1583.2v-36.5M842.8 850.5v36.5M842.8 1583.2v-36.5M965.9 850.5v36.5M965.9 1583.2v-36.5M1089.0 850.5v36.5M1089.0 1583.2v-36.5M1212.1 850.5v36.5M1212.1 1583.2v-36.5M1335.2 850.5v36.5M1335.2 1583.2v-36.5M1458.3 850.5v36.5M1458.3 1583.2v-36.5M1581.4 850.5v36.5M1581.4 1583.2v-36.5M1704.5 850.5v36.5M1704.5 1583.2v-36.5M1827.6 850.5v36.5M1827.6 1583.2v-36.5M1950.7 850.5v36.5M1950.7 1583.2v-36.5M2073.8 850.5v36.5M2073.8 1583.2v-36.5M2196.9 850.5v36.5M2196.9 1583.2v-36.5M314.0 1216.8H350.4M2320.0 1216.8H2356.0" stroke="#2e3192" stroke-width="6.6" fill="none"/><line x1="314.0" y1="1638.0" x2="2356.0" y2="1638.0" stroke="#2e3192" stroke-width="5.9"/><line x1="314.0" y1="2371.2" x2="2356.0" y2="2371.2" stroke="#2e3192" stroke-width="5.6"/><line x1="350.4" y1="1638.0" x2="350.4" y2="2371.2" stroke="#2e3192" stroke-width="6.6"/><line x1="2320.0" y1="1638.0" x2="2320.0" y2="2371.2" stroke="#2e3192" stroke-width="6.6"/><path d="M473.5 1638.0v36.5M473.5 2371.2v-36.5M596.6 1638.0v36.5M596.6 2371.2v-36.5M719.7 1638.0v36.5M719.7 2371.2v-36.5M842.8 1638.0v36.5M842.8 2371.2v-36.5M965.9 1638.0v36.5M965.9 2371.2v-36.5M1089.0 1638.0v36.5M1089.0 2371.2v-36.5M1212.1 1638.0v36.5M1212.1 2371.2v-36.5M1335.2 1638.0v36.5M1335.2 2371.2v-36.5M1458.3 1638.0v36.5M1458.3 2371.2v-36.5M1581.4 1638.0v36.5M1581.4 2371.2v-36.5M1704.5 1638.0v36.5M1704.5 2371.2v-36.5M1827.6 1638.0v36.5M1827.6 2371.2v-36.5M1950.7 1638.0v36.5M1950.7 2371.2v-36.5M2073.8 1638.0v36.5M2073.8 2371.2v-36.5M2196.9 1638.0v36.5M2196.9 2371.2v-36.5M314.0 2004.6H350.4M2320.0 2004.6H2356.0" stroke="#2e3192" stroke-width="6.6" fill="none"/>
<g fill="#231f20" font-family="Liberation Sans, Arial, Helvetica, sans-serif">
<text transform="translate(280.5 96.0) scale(1 1.03)" font-size="88" text-anchor="end" >20</text><text transform="translate(280.5 457.3) scale(1 1.03)" font-size="88" text-anchor="end" >10</text><text transform="translate(280.5 812.3) scale(1 1.03)" font-size="88" text-anchor="end" >0</text><text transform="translate(284.5 1239.0) scale(1 1.03)" font-size="88" text-anchor="end" >20</text><text transform="translate(280.5 1599.0) scale(1 1.03)" font-size="88" text-anchor="end" >0</text><text transform="translate(280.5 2021.5) scale(1 1.03)" font-size="88" text-anchor="end" >10</text><text transform="translate(280.5 2388.0) scale(1 1.03)" font-size="88" text-anchor="end" >0</text><text transform="translate(350.4 2492.3) scale(1 1.03)" font-size="88" text-anchor="middle" >10</text><text transform="translate(596.6 2492.3) scale(1 1.03)" font-size="88" text-anchor="middle" >12</text><text transform="translate(842.8 2492.3) scale(1 1.03)" font-size="88" text-anchor="middle" >14</text><text transform="translate(1089.0 2492.3) scale(1 1.03)" font-size="88" text-anchor="middle" >16</text><text transform="translate(1335.2 2492.3) scale(1 1.03)" font-size="88" text-anchor="middle" >18</text><text transform="translate(1581.4 2492.3) scale(1 1.03)" font-size="88" text-anchor="middle" >20</text><text transform="translate(1827.6 2492.3) scale(1 1.03)" font-size="88" text-anchor="middle" >22</text><text transform="translate(2073.8 2492.3) scale(1 1.03)" font-size="88" text-anchor="middle" >24</text><text transform="translate(2320.0 2492.3) scale(1 1.03)" font-size="88" text-anchor="middle" >26</text><text x="1336.5" y="2615.3" font-size="99.4" text-anchor="middle" >Wavelength (nm)</text><text x="0" y="0" font-size="99.3" text-anchor="middle" transform="translate(99.5 1218.3) rotate(-90) scale(1 1.035)">Counts</text><text x="393" y="223" font-size="98" text-anchor="start" >a</text><text x="394" y="987.5" font-size="98" text-anchor="start" >b</text><text x="384" y="1787" font-size="98" text-anchor="start" >c</text><text transform="translate(1606 204.0) scale(1 1.045)" font-size="110" text-anchor="start" >Ge</text><text transform="translate(1814 203.2) scale(1 1.025)" font-size="88" text-anchor="start" >36 MeV</text><text x="1626" y="307" font-size="88" text-anchor="start" >Delay 0.1 ns</text><text x="1634" y="1204.7" font-size="88" text-anchor="start" >Delay 1 ns</text><text x="1636" y="1888.3" font-size="88" text-anchor="start" >Delay 10 ns</text>
</g>
</svg></body></html>
